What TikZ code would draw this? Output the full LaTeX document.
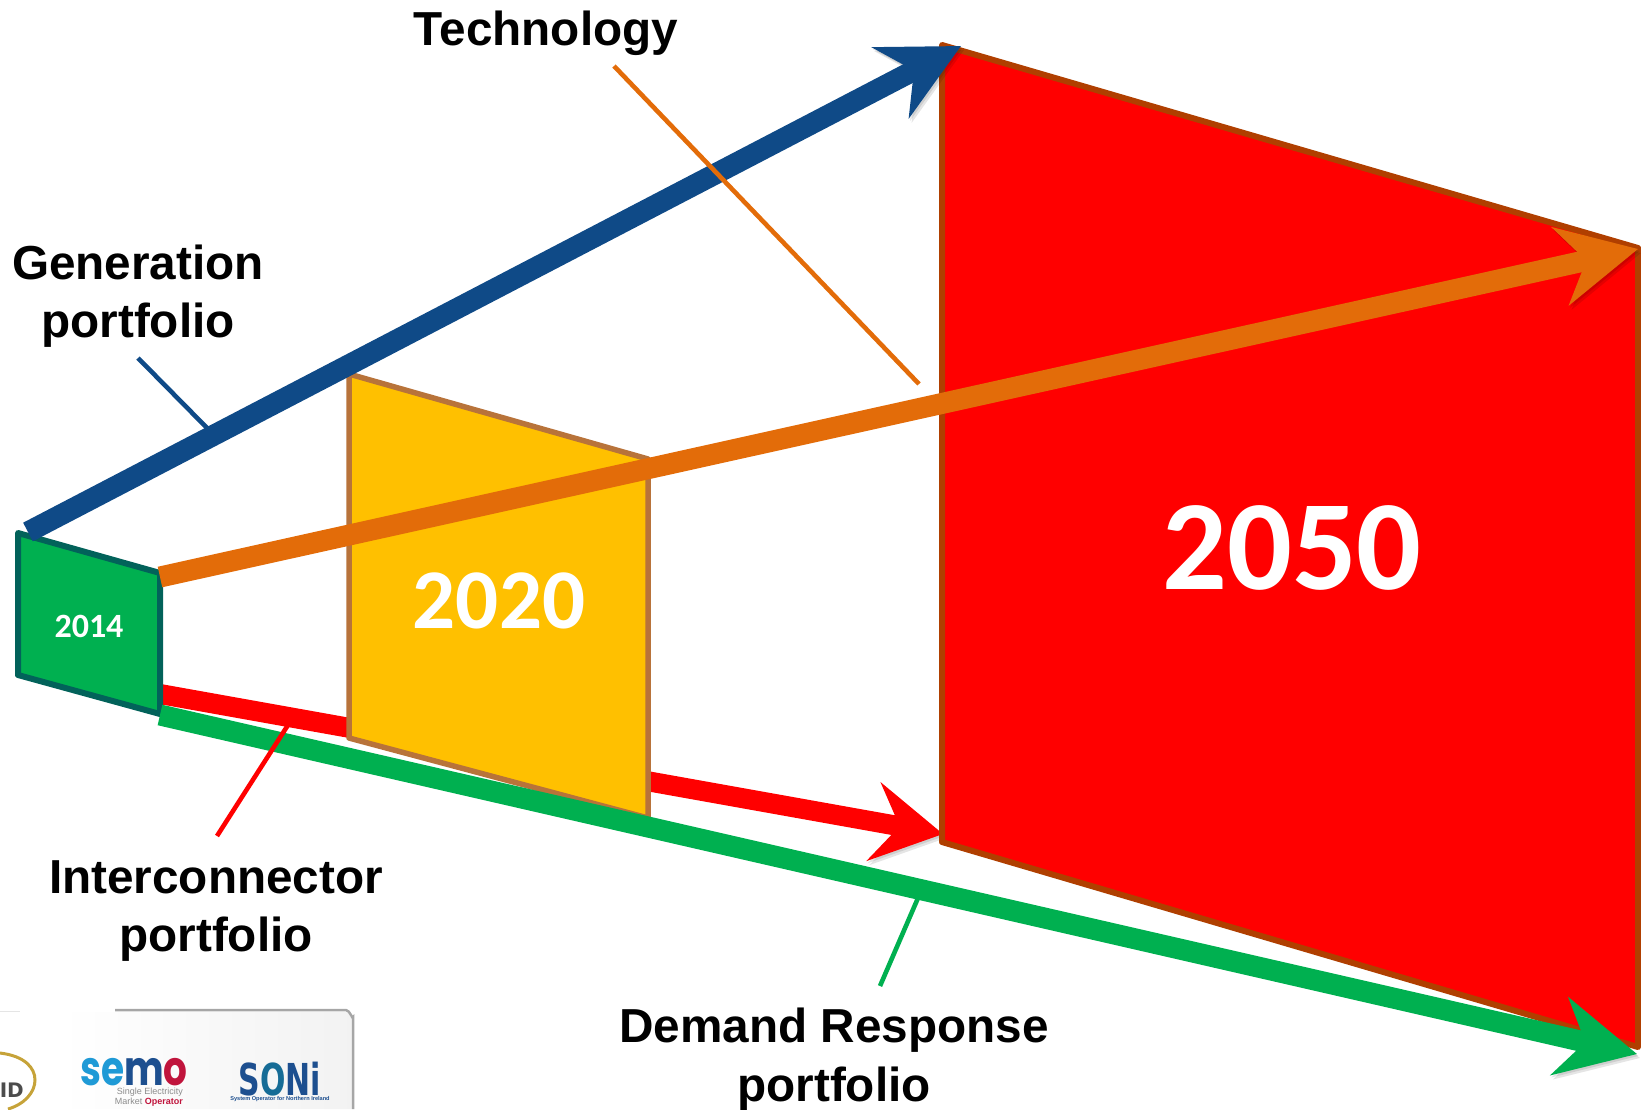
\documentclass[tikz,border=0pt]{standalone}
\usepackage{fontspec}
\setmainfont{Liberation Sans}
\newfontfamily\calfont{Carlito}
\newfontfamily\logofont{DejaVu Sans}
\newfontfamily\semofont{Poppins}
\usetikzlibrary{arrows.meta,shadings}
\definecolor{bluearrow}{HTML}{0F4A87}
\definecolor{orangearrow}{HTML}{E36C09}
\definecolor{redarrow}{HTML}{FF0000}
\definecolor{greenarrow}{HTML}{00B050}
\definecolor{yellowbox}{HTML}{FFC000}
\definecolor{yellowedge}{HTML}{B8733A}
\definecolor{redEdge}{HTML}{B03F00}
\definecolor{greenEdge}{HTML}{02625A}
\definecolor{semoblue}{HTML}{1F9AD6}
\definecolor{semodark}{HTML}{1D4F8F}
\definecolor{semored}{HTML}{C0143C}
\tikzset{
  x=1pt,y=-1pt,
  flow/.style={line width=#1,line cap=butt},
  softshadow/.style={preaction={draw=black,opacity=.10,transform canvas={shift={(3pt,-4pt)}}},
                     preaction={draw=black,opacity=.10,transform canvas={shift={(1.5pt,-2pt)}}}},
  bigtip/.style={-{Stealth[length=#1,width=79pt,inset=26pt,sep=0pt]}},
  bigtip/.default=79pt,
  panelbox/.style={line width=#1,line join=round},
  leader/.style={line width=4.6pt},
  lbl/.style={font=\fontsize{47.7}{58.6}\selectfont\bfseries,align=center,text=black,inner sep=0pt},
  yr/.style={font=\calfont\bfseries,text=white,inner sep=0pt}
}
\begin{document}
\begin{tikzpicture}
\useasboundingbox (0,0) rectangle (1641,1109);
% logo panel
\shade[left color=white,right color=black!5] (112,1012) -- (346,1012) to[out=0,in=-90] (352,1018) -- (352,1109) -- (60,1109) -- (60,1012) -- cycle;
\draw[black!35,line width=2.5pt] (115,1010) -- (346,1010) to[out=0,in=-90] (353,1017) -- (353,1109);
\draw[black!10,line width=1pt] (0,1011) -- (20,1011);
\node[inner sep=0pt,font=\semofont\bfseries\fontsize{48}{48}\selectfont,text height=27pt,text depth=0pt,xscale=.78] (semologo) at (134,1072) {\textcolor{semoblue}{se}\textcolor{semodark}{m}\textcolor{semored}{o}};
\node[inner sep=0pt,font=\fontsize{9}{10}\selectfont,text=black!45,align=right,anchor=north east] (semosub) at (183,1088) {Single Electricity\\Market \textcolor{semored}{\bfseries Operator}};
\node[inner sep=0pt,font=\logofont\bfseries\fontsize{44}{44}\selectfont,text=semodark,text height=32pt,text depth=0pt,xscale=.68] (sonilogo) at (280,1079) {S\textcolor{semoblue!70!black}{O}Ni};
\node[inner sep=0pt,font=\bfseries\fontsize{5.6}{6}\selectfont,text=semodark,anchor=north] (sonisub) at (280,1096) {System Operator for Northern Ireland};
\draw[yellowbox!55!gray,line width=3pt] (0,1053) .. controls (25,1056) and (35,1068) .. (35,1080) .. controls (35,1092) and (25,1104) .. (8,1109);
\node[inner sep=0pt,font=\logofont\bfseries\fontsize{20}{20}\selectfont,text=black!70,anchor=east] (idtext) at (24,1090) {ID};
% coordinates of arrow ends
\coordinate (gs) at (28,532);  \coordinate (ge) at (961,46);
\coordinate (ts) at (160,577); \coordinate (te) at (1638,249);
\coordinate (is) at (160,694); \coordinate (ie) at (943,834);
\coordinate (ds) at (160,715); \coordinate (de) at (1637,1054);
% interconnector arrow lies behind the 2020 frame
\draw[flow=20pt,redarrow,bigtip=70pt,softshadow] (is) -- (ie);
% frames
\draw[panelbox=6pt,draw=redEdge,fill=redarrow] (942,45) -- (1638,248) -- (1638,1047) -- (942,842) -- cycle;
\draw[panelbox=5.5pt,draw=yellowedge,fill=yellowbox] (349,374) -- (648,459) -- (648,818) -- (349,738) -- cycle;
\draw[panelbox=6pt,draw=greenEdge,fill=greenarrow] (18,533) -- (160,573) -- (160,714) -- (18,675) -- cycle;
\node[yr,font=\calfont\bfseries\fontsize{34}{34}\selectfont] (y14) at (89,626) {2014};
\node[yr,font=\calfont\bfseries\fontsize{85}{85}\selectfont] (y20) at (499,601) {2020};
\node[yr,font=\calfont\bfseries\fontsize{128}{128}\selectfont] (y50) at (1292,548) {2050};
% arrows
\draw[flow=21pt,bluearrow,bigtip,softshadow] (gs) -- (ge);
\draw[flow=21pt,orangearrow,bigtip,softshadow] (ts) -- (te);
\draw[flow=21pt,greenarrow,bigtip,softshadow] (ds) -- (de);
% labels
\node[lbl] (tech) at (546,33) {Technology};
\node[lbl] (gen) at (138,296) {Generation\\portfolio};
\node[lbl] (inter) at (216,911) {Interconnector\\portfolio};
\node[lbl] (dem) at (834,1059.5) {Demand Response\\portfolio};
% leaders
\coordinate (l1a) at (614,66);  \coordinate (l1b) at (919,384);
\coordinate (l2a) at (138,358); \coordinate (l2b) at (210,431);
\coordinate (l3a) at (217,836); \coordinate (l3b) at (288,725);
\coordinate (l4a) at (880,986); \coordinate (l4b) at (918,898);
\draw[leader,orangearrow] (l1a) -- (l1b);
\draw[leader,bluearrow] (l2a) -- (l2b);
\draw[leader,redarrow] (l3a) -- (l3b);
\draw[leader,greenarrow] (l4a) -- (l4b);
\end{tikzpicture}
\end{document}
